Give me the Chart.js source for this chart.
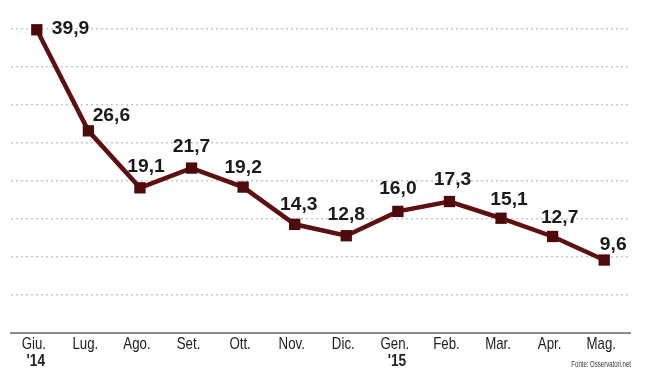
<!DOCTYPE html>
<html>
<head>
<meta charset="utf-8">
<script src="https://cdn.jsdelivr.net/npm/chart.js@4"></script>
<style>
  html, body { margin: 0; padding: 0; background: #fff; }
</style>
</head>
<body>
<canvas id="myChart" width="650" height="372"></canvas>
<script>
const months = ["Giu.", "Lug.", "Ago.", "Set.", "Ott.", "Nov.", "Dic.", "Gen.", "Feb.", "Mar.", "Apr.", "Mag."];
const years = ["'14", "", "", "", "", "", "", "'15", "", "", "", ""];
const values = [39.9, 26.6, 19.1, 21.7, 19.2, 14.3, 12.8, 16.0, 17.3, 15.1, 12.7, 9.6];
const yTicks = [0, 5, 10, 15, 20, 25, 30, 35, 40];
const source = "Fonte: Osservatori.net";

const sans = "'Liberation Sans', Arial, sans-serif";
const lineColor = "#5e1010";

// where each value label sits relative to its marker
const labelShift = [[15, -2, "left"], [23, -16], [6, -22], [0, -22], [0, -20], [4, -20],
                    [0, -22], [0, -23], [3, -22], [8, -19], [7, -19], [9, -16]];

// squeeze or stretch text horizontally
function scaledText(ctx, text, x, y, align, sx) {
    ctx.save();
    ctx.translate(x, y);
    ctx.scale(sx, 1);
    ctx.textAlign = align;
    ctx.fillText(text, 0, 0);
    ctx.restore();
}

const labelsPlugin = {
    id: "valueLabels",
    afterDraw(chart) {
        const ctx = chart.ctx;
        const meta = chart.getDatasetMeta(0);
        const xs = chart.scales.x;
        ctx.save();
        ctx.textBaseline = "middle";

        ctx.fillStyle = "#1a1a1a";
        ctx.font = "bold 18px " + sans;
        meta.data.forEach((pt, i) => {
            const s = labelShift[i];
            scaledText(ctx, values[i].toFixed(1).replace(".", ","), pt.x + s[0], pt.y + s[1] + 1, s[2] || "center", 1.07);
        });

        // month ticks and year under them
        ctx.fillStyle = "#222";
        ctx.font = "17px " + sans;
        months.forEach((m, i) => {
            scaledText(ctx, m, xs.getPixelForValue(i) - 3, 344, "center", 0.78);
        });
        ctx.font = "bold 16px " + sans;
        years.forEach((yr, i) => {
            if (yr) scaledText(ctx, yr, xs.getPixelForValue(i) - 1, 362, "center", 0.85);
        });

        ctx.font = "9px " + sans;
        ctx.fillStyle = "#333";
        scaledText(ctx, source, 631, 365, "right", 0.67);
        ctx.restore();
    }
};

new Chart(document.getElementById("myChart"), {
    type: "line",
    data: {
        labels: months,
        datasets: [{
            data: values,
            borderColor: lineColor,
            borderWidth: 4.5,
            backgroundColor: "#4e0a0a",
            pointStyle: "rect",
            pointRadius: 8,
            pointBorderWidth: 0,
            tension: 0,
            clip: false
        }]
    },
    options: {
        responsive: false,
        animation: false,
        devicePixelRatio: 1,
        layout: { padding: { left: 11, right: 20, top: 29, bottom: 39 } },
        plugins: {
            legend: { display: false },
            tooltip: { enabled: false }
        },
        scales: {
            x: {
                offset: true,
                grid: { display: false, drawTicks: false },
                border: { display: true, color: "#8a8a8a", width: 2 },
                ticks: { display: false }
            },
            y: {
                min: yTicks[0],
                max: yTicks[yTicks.length - 1],
                afterBuildTicks: (axis) => { axis.ticks = yTicks.map(v => ({ value: v })); },
                ticks: { display: false },
                grid: { color: "#c8c8c8", lineWidth: 1.5, drawTicks: false },
                border: { display: false, dash: [2, 3] }
            }
        }
    },
    plugins: [labelsPlugin]
});
</script>
</body>
</html>
